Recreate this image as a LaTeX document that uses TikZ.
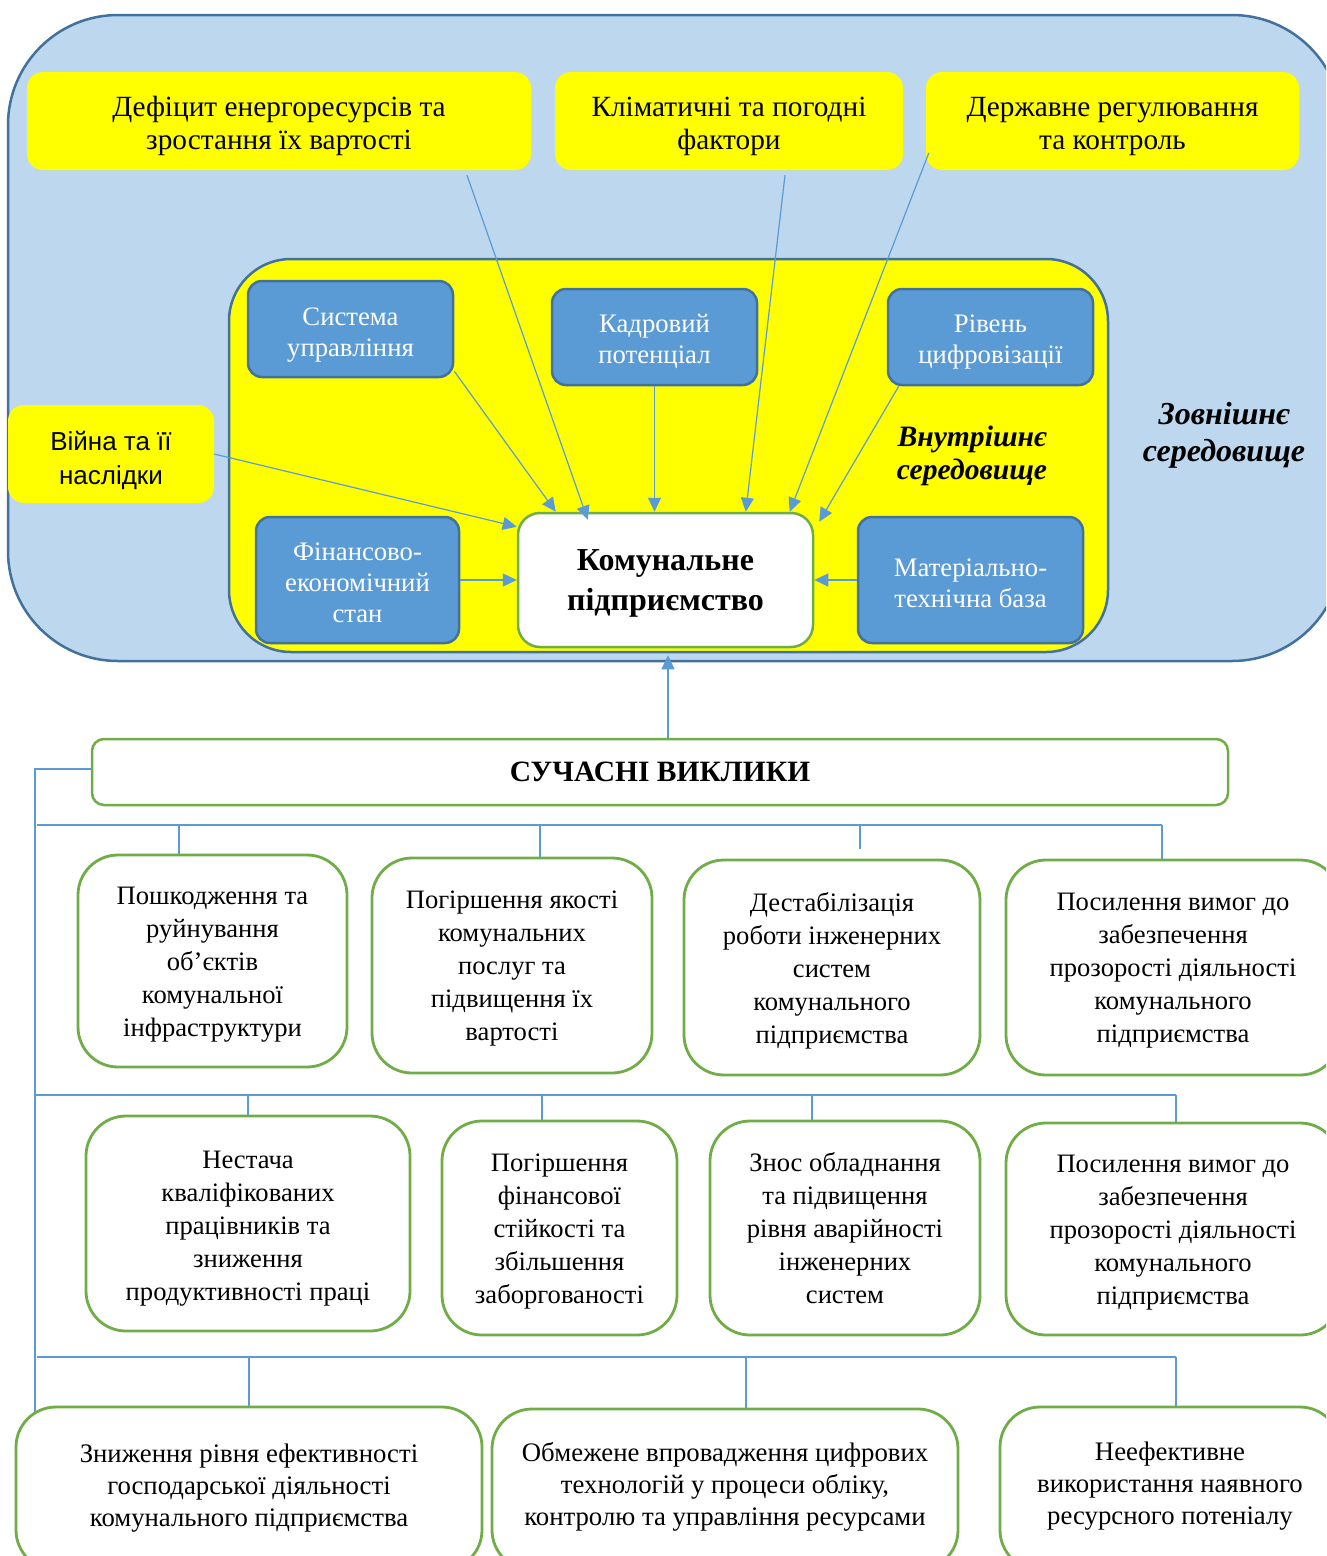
\documentclass[tikz,border=0pt]{standalone}
\usepackage{fontspec}
\setmainfont{Liberation Serif}
\newfontfamily\warfont{Liberation Sans}
\usetikzlibrary{arrows.meta,calc}
\definecolor{outerfill}{HTML}{BDD7EE}
\definecolor{darkblue}{HTML}{41719C}
\definecolor{midblue}{HTML}{5B9BD5}
\definecolor{grn}{HTML}{70AD47}
\definecolor{yel}{HTML}{FFFF00}
\newcommand\fsTop{\fontsize{29.3}{33}\selectfont}
\newcommand\fsBlue{\fontsize{26.7}{31}\selectfont}
\newcommand\fsCh{\fontsize{26.6}{33}\selectfont}
\newcommand\fsLow{\fontsize{26.75}{32}\selectfont}
\newcommand\fsKom{\fontsize{32}{40}\selectfont\bfseries}
\newcommand\tx[2][0pt]{\raisebox{-#1}[\height][\depth]{\begin{tabular}{@{}c@{}}#2\end{tabular}}}
\tikzset{
  outerbox/.style={draw=darkblue, line width=2.5pt, fill=outerfill, rounded corners=110pt, inner sep=0pt},
  innerbox/.style={draw=darkblue, line width=2.5pt, fill=yel, rounded corners=62pt, inner sep=0pt},
  ybox/.style={fill=yel, draw=none, rounded corners=16pt, inner sep=0pt, font=\fsTop},
  bbox/.style={fill=midblue, draw=darkblue, line width=2.5pt, rounded corners=14pt, inner sep=0pt, text=white, font=\fsBlue},
  kombox/.style={fill=white, draw=grn, line width=2.5pt, rounded corners=22pt, inner sep=0pt, font=\fsKom},
  chbox/.style={fill=white, draw=grn, line width=2.8pt, rounded corners=40pt, inner sep=0pt, font=\fsCh},
  lowbox/.style={chbox, font=\fsLow},
  schbox/.style={fill=white, draw=grn, line width=2.5pt, rounded corners=12pt, inner sep=0pt, font=\fontsize{29.5}{33}\selectfont\bfseries},
  lbl/.style={align=center, inner sep=0pt},
  arr/.style={draw=midblue, line width=1.2pt, -{Triangle[length=14pt,width=13pt]}},
  tree/.style={draw=midblue, line width=1.5pt},
}
\begin{document}
\begin{tikzpicture}[x=1pt,y=-1pt]
\useasboundingbox (0,0) rectangle (1326,1556);
\clip (0,0) rectangle (1326,1556);
\fill[white] (0,0) rectangle (1326,1556);

% environments
\node[outerbox, minimum width=1334pt, minimum height=646pt] (outer) at (675,338) {};
\node[innerbox, minimum width=879pt, minimum height=393pt] (inner) at (668.5,455.5) {};

% external factors
\node[ybox, minimum width=504pt, minimum height=98pt] (def) at (279,121) {\tx[5.5pt]{Дефіцит енергоресурсів та\\зростання їх вартості}};
\node[ybox, minimum width=348pt, minimum height=98pt] (klim) at (729,121) {\tx[5.5pt]{Кліматичні та погодні\\фактори}};
\node[ybox, minimum width=373pt, minimum height=98pt] (derzh) at (1112.5,121) {\tx[5.5pt]{Державне регулювання\\та контроль}};
\node[ybox, minimum width=206pt, minimum height=98pt, font=\fontsize{26}{34}\selectfont\warfont] (war) at (111,454) {\tx[7pt]{Війна та її\\наслідки}};

% internal factors
\node[bbox, minimum width=205pt, minimum height=96pt] (sys) at (350.5,329) {\tx[5.5pt]{Система\\управління}};
\node[bbox, minimum width=205pt, minimum height=96pt] (kad) at (654.5,337) {\tx[4.5pt]{Кадровий\\потенціал}};
\node[bbox, minimum width=205pt, minimum height=96pt] (riv) at (990.5,337) {\tx[4.5pt]{Рівень\\цифровізації}};
\node[bbox, minimum width=203pt, minimum height=126pt] (fin) at (357.5,580) {\tx[5pt]{Фінансово-\\економічний\\стан}};
\node[bbox, minimum width=225pt, minimum height=126pt] (mat) at (970.5,580) {\tx[5.5pt]{Матеріально-\\технічна база}};
\node[kombox, minimum width=295pt, minimum height=134pt] (kom) at (665.5,580) {\tx[2pt]{Комунальне\\підприємство}};

\node[lbl, font=\fontsize{29.6}{33}\selectfont\bfseries\itshape] (inlbl) at (972,455.5) {Внутрішнє\\середовище};
\node[lbl, font=\fontsize{32}{37}\selectfont\bfseries\itshape] (outlbl) at (1224,435) {Зовнішнє\\середовище};

% arrows to the enterprise
\draw[arr] ($(def.south)+(188,5)$) -- ($(kom.north west)+(71,8)$);
\draw[arr] ($(klim.south)+(56,5)$) -- ($(kom.north west)+(229,0)$);
\draw[arr] ($(derzh.west)+(3,32)$) -- ($(kom.north west)+(273,0)$);
\draw[arr] ($(sys.south east)+(0,-7)$) -- ($(kom.north west)+(39,0)$);
\draw[arr] (kad.south) -- (kad.south |- kom.north);
\draw[arr] ($(riv.south west)+(12,0)$) -- ($(kom.north east)+(5,10)$);
\draw[arr] (war.east) -- ($(kom.north west)+(0,15)$);
\draw[arr] (fin.east) -- (kom.west);
\draw[arr] (mat.west) -- (kom.east);

% challenges
\node[schbox, minimum width=1136pt, minimum height=66pt] (sch) at (660,772) {СУЧАСНІ ВИКЛИКИ};
\draw[arr] ($(sch.north)+(8,0)$) -- ($(kom.south)+(2.5,7)$);

\node[chbox, minimum width=269pt, minimum height=212pt] (A) at (212.5,961) {\tx[3pt]{Пошкодження та\\руйнування\\об’єктів\\комунальної\\інфраструктури}};
\node[chbox, minimum width=280pt, minimum height=215pt] (B) at (512,965.5) {\tx[2pt]{Погіршення якості\\комунальних\\послуг та\\підвищення їх\\вартості}};
\node[chbox, minimum width=296pt, minimum height=215pt] (C) at (832,967.5) {\tx[3.5pt]{Дестабілізація\\роботи інженерних\\систем\\комунального\\підприємства}};
\node[chbox, minimum width=334pt, minimum height=215pt] (D) at (1173,967.5) {\tx[2.5pt]{Посилення вимог до\\забезпечення\\прозорості діяльності\\комунального\\підприємства}};

\node[chbox, minimum width=324pt, minimum height=215pt] (E) at (248,1223.5) {\tx[4pt]{Нестача\\кваліфікованих\\працівників та\\зниження\\продуктивності праці}};
\node[chbox, minimum width=235pt, minimum height=214pt] (F) at (559.5,1228) {\tx[3pt]{Погіршення\\фінансової\\стійкості та\\збільшення\\заборгованості}};
\node[chbox, minimum width=270pt, minimum height=214pt] (G) at (845,1228) {\tx[3pt]{Знос обладнання\\та підвищення\\рівня аварійності\\інженерних\\систем}};
\node[chbox, minimum width=334pt, minimum height=212pt] (H) at (1173,1229) {\tx[3pt]{Посилення вимог до\\забезпечення\\прозорості діяльності\\комунального\\підприємства}};

\node[lowbox, minimum width=466pt, minimum height=163pt] (I) at (249,1488.5) {\tx[-0.5pt]{Зниження рівня ефективності\\господарської діяльності\\комунального підприємства}};
\node[lowbox, minimum width=466pt, minimum height=161pt] (J) at (725,1489.5) {\tx[-2.5pt]{Обмежене впровадження цифрових\\технологій у процеси обліку,\\контролю та управління ресурсами}};
\node[lowbox, minimum width=340pt, minimum height=163pt] (K) at (1170,1488.5) {\tx[-2.5pt]{Неефективне\\використання наявного\\ресурсного потеніалу}};

% tree connectors
\coordinate (trunkTop) at (35,769);
\coordinate (trunkBot) at (35,1412);
\draw[tree] (sch.west |- trunkTop) -- (trunkTop) -- (trunkBot);

\coordinate (busAl) at (37,825);  \coordinate (busAr) at (1162,825);
\coordinate (busBl) at (35,1095); \coordinate (busBr) at (1176,1095);
\coordinate (busCl) at (37,1357); \coordinate (busCr) at (1176,1357);
\draw[tree] (busAl) -- (busAr);
\draw[tree] (busBl) -- (busBr);
\draw[tree] (busCl) -- (busCr);

\coordinate (tA) at (179,825);  \coordinate (tB) at (540,825);
\coordinate (tC) at (860,825);  \coordinate (tD) at (1162,825);
\coordinate (tE) at (248,1095); \coordinate (tF) at (542,1095);
\coordinate (tG) at (812,1095); \coordinate (tH) at (1176,1095);
\coordinate (tI) at (249,1357); \coordinate (tJ) at (746,1357);
\coordinate (tK) at (1176,1357);
\draw[tree] (tA) -- (tA |- A.north);
\draw[tree] (tB) -- (tB |- B.north);
\draw[tree] (tC) -- ($(tC)+(0,24)$);
\draw[tree] (tD) -- (tD |- D.north);
\draw[tree] (tE) -- (tE |- E.north);
\draw[tree] (tF) -- (tF |- F.north);
\draw[tree] (tG) -- (tG |- G.north);
\draw[tree] (tH) -- (tH |- H.north);
\draw[tree] (tI) -- (tI |- I.north);
\draw[tree] (tJ) -- (tJ |- J.north);
\draw[tree] (tK) -- (tK |- K.north);
\end{tikzpicture}
\end{document}
